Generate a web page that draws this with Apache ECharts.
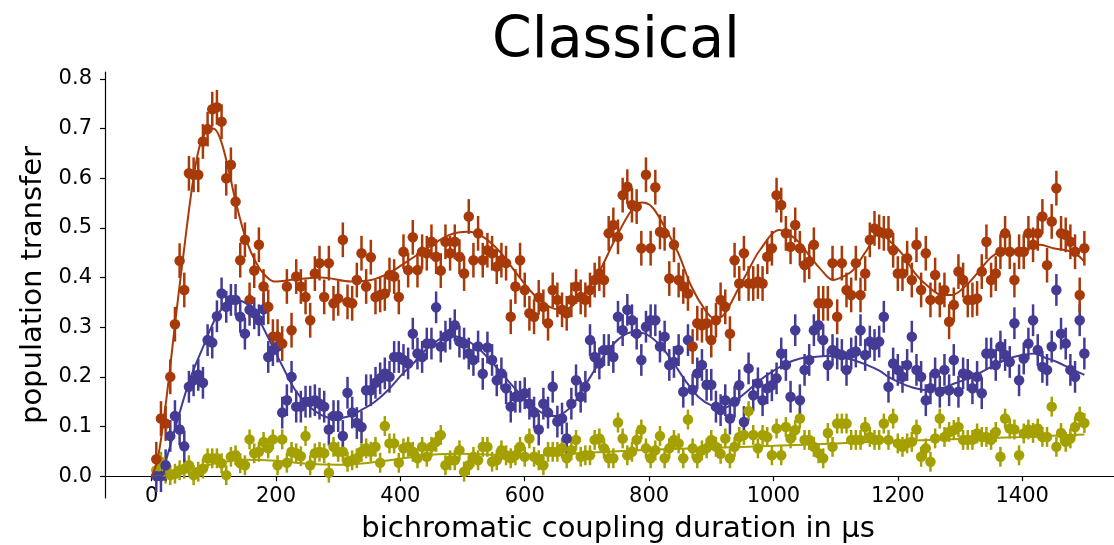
<!DOCTYPE html>
<html><head><meta charset="utf-8">
<script src="https://cdn.jsdelivr.net/npm/echarts@6/dist/echarts.min.js"></script>
<style>html,body{margin:0;padding:0;background:#fff}#c{width:1114px;height:545px}</style>
</head><body><div id="c"></div><script>
// bichromatic coupling duration (µs)
const durations = [
7.5,15,22.5,30,37.5,45,52.5,60,67.5,75,82.5,90,97.5,105,112.5,120,127.5,135,142.5,150,
157.5,165,172.5,180,187.5,195,202.5,210,217.5,225,232.5,240,247.5,255,262.5,270,277.5,285,292.5,300,
307.5,315,322.5,330,337.5,345,352.5,360,367.5,375,382.5,390,397.5,405,412.5,420,427.5,435,442.5,450,
457.5,465,472.5,480,487.5,495,502.5,510,517.5,525,532.5,540,547.5,555,562.5,570,577.5,585,592.5,600,
607.5,615,622.5,630,637.5,645,652.5,660,667.5,675,682.5,690,697.5,705,712.5,720,727.5,735,742.5,750,
757.5,765,772.5,780,787.5,795,802.5,810,817.5,825,832.5,840,847.5,855,862.5,870,877.5,885,892.5,900,
907.5,915,922.5,930,937.5,945,952.5,960,967.5,975,982.5,990,997.5,1005,1012.5,1020,1027.5,1035,1042.5,1050,
1057.5,1065,1072.5,1080,1087.5,1095,1102.5,1110,1117.5,1125,1132.5,1140,1147.5,1155,1162.5,1170,1177.5,1185,1192.5,1200,
1207.5,1215,1222.5,1230,1237.5,1245,1252.5,1260,1267.5,1275,1282.5,1290,1297.5,1305,1312.5,1320,1327.5,1335,1342.5,1350,
1357.5,1365,1372.5,1380,1387.5,1395,1402.5,1410,1417.5,1425,1432.5,1440,1447.5,1455,1462.5,1470,1477.5,1485,1492.5,1500
];
const redValues = [
0.034,0.116,0.106,0.200,0.306,0.434,0.375,0.610,0.607,0.607,0.674,0.699,0.739,0.743,0.714,0.600,0.627,0.553,0.435,0.476,
0.355,0.414,0.466,0.382,0.341,0.281,0.281,0.267,0.382,0.294,0.402,0.382,0.361,0.314,0.408,0.429,0.361,0.429,0.348,0.358,
0.476,0.351,0.348,0.395,0.449,0.382,0.441,0.361,0.365,0.368,0.405,0.402,0.361,0.452,0.415,0.481,0.415,0.452,0.449,0.472,
0.442,0.414,0.472,0.449,0.472,0.442,0.408,0.523,0.435,0.489,0.435,0.455,0.449,0.422,0.435,0.429,0.321,0.382,0.435,0.375,
0.328,0.321,0.360,0.341,0.308,0.375,0.355,0.335,0.328,0.355,0.382,0.361,0.355,0.375,0.395,0.408,0.395,0.489,0.506,0.482,
0.566,0.583,0.546,0.543,0.459,0.607,0.459,0.582,0.492,0.489,0.398,0.466,0.395,0.382,0.368,0.261,0.308,0.304,0.308,0.274,
0.314,0.355,0.341,0.287,0.435,0.388,0.449,0.388,0.388,0.392,0.388,0.442,0.459,0.566,0.546,0.489,0.462,0.506,0.459,0.425,
0.432,0.466,0.348,0.348,0.348,0.429,0.321,0.429,0.375,0.365,0.429,0.365,0.408,0.476,0.499,0.492,0.489,0.489,0.455,0.408,
0.408,0.439,0.395,0.466,0.375,0.449,0.355,0.405,0.355,0.375,0.311,0.345,0.412,0.395,0.355,0.355,0.358,0.412,0.472,0.395,
0.408,0.452,0.489,0.452,0.395,0.452,0.452,0.489,0.466,0.489,0.523,0.425,0.513,0.580,0.489,0.486,0.472,0.452,0.365,0.459
];
const blueValues = [
0.000,0.000,0.022,0.081,0.121,0.094,0.060,0.180,0.193,0.204,0.188,0.274,0.269,0.322,0.368,0.341,0.355,0.355,0.321,0.287,
0.335,0.328,0.314,0.336,0.240,0.254,0.261,0.128,0.153,0.200,0.140,0.140,0.150,0.150,0.153,0.146,0.140,0.094,0.121,0.121,
0.081,0.168,0.128,0.107,0.099,0.173,0.173,0.188,0.197,0.207,0.200,0.240,0.240,0.234,0.227,0.287,0.247,0.240,0.267,0.267,
0.340,0.261,0.281,0.287,0.304,0.271,0.267,0.247,0.234,0.261,0.206,0.259,0.234,0.193,0.207,0.177,0.140,0.160,0.160,0.167,
0.146,0.128,0.094,0.146,0.128,0.180,0.110,0.116,0.076,0.146,0.193,0.160,0.180,0.274,0.240,0.227,0.254,0.254,0.240,0.321,
0.294,0.335,0.314,0.287,0.234,0.301,0.314,0.314,0.261,0.281,0.224,0.230,0.254,0.170,0.274,0.174,0.207,0.224,0.184,0.184,
0.140,0.133,0.153,0.116,0.150,0.183,0.109,0.217,0.163,0.187,0.153,0.177,0.183,0.197,0.247,0.224,0.160,0.294,0.153,0.214,
0.234,0.294,0.304,0.274,0.224,0.254,0.247,0.244,0.214,0.247,0.251,0.294,0.244,0.271,0.264,0.271,0.321,0.180,0.227,0.214,
0.200,0.224,0.281,0.214,0.200,0.153,0.177,0.207,0.170,0.214,0.173,0.234,0.170,0.207,0.204,0.177,0.200,0.167,0.247,0.247,
0.224,0.261,0.244,0.230,0.308,0.193,0.237,0.267,0.314,0.254,0.220,0.214,0.261,0.375,0.287,0.267,0.214,0.200,0.314,0.247
];
const oliveValues = [
0.012,0.029,0.005,0.002,0.005,0.012,0.015,0.022,0.002,0.009,0.015,0.036,0.036,0.036,0.026,0.002,0.039,0.042,0.026,0.022,
0.074,0.046,0.049,0.069,0.056,0.074,0.022,0.074,0.027,0.049,0.046,0.040,0.081,0.022,0.046,0.049,0.046,0.007,0.059,0.049,
0.049,0.029,0.032,0.036,0.049,0.056,0.049,0.059,0.027,0.101,0.066,0.066,0.027,0.056,0.059,0.049,0.036,0.059,0.039,0.059,
0.069,0.083,0.022,0.032,0.032,0.052,0.009,0.022,0.039,0.032,0.059,0.059,0.029,0.032,0.052,0.042,0.036,0.042,0.059,0.039,
0.076,0.039,0.032,0.022,0.049,0.049,0.049,0.056,0.036,0.052,0.073,0.039,0.042,0.042,0.073,0.076,0.056,0.036,0.036,0.108,
0.076,0.042,0.049,0.073,0.094,0.056,0.036,0.052,0.081,0.036,0.056,0.073,0.066,0.036,0.114,0.056,0.036,0.052,0.056,0.073,
0.059,0.045,0.076,0.036,0.059,0.079,0.083,0.131,0.083,0.056,0.083,0.079,0.042,0.096,0.042,0.099,0.076,0.093,0.116,0.073,
0.073,0.059,0.046,0.036,0.087,0.059,0.106,0.106,0.106,0.073,0.073,0.073,0.099,0.079,0.073,0.073,0.106,0.073,0.116,0.066,
0.059,0.066,0.069,0.094,0.039,0.056,0.029,0.076,0.116,0.079,0.089,0.093,0.099,0.073,0.073,0.073,0.086,0.079,0.079,0.073,
0.089,0.039,0.116,0.096,0.094,0.042,0.086,0.094,0.087,0.096,0.079,0.079,0.140,0.059,0.087,0.069,0.076,0.099,0.120,0.107
];
// half-lengths of the error bars per series
const redError = 0.035, blueError = 0.032, oliveError = 0.02;
// fit curves
const redFitX = [0,9,19,28,37,50,66,77,88,99,109,120,136,152,168,182,198,230,273,321,353,380,402,431,447,479,509,533,560,587,613,640,662,691,718,745,772,788,804,825,847,868,890,905,920,945,957,978,1010,1037,1059,1075,1096,1112,1128,1150,1171,1185,1206,1228,1249,1271,1287,1308,1330,1351,1373,1400,1429,1450,1470,1485,1500];
const redFitY = [0,0.03,0.11,0.2,0.30,0.435,0.59,0.664,0.694,0.70,0.684,0.637,0.549,0.476,0.43,0.405,0.392,0.396,0.40,0.392,0.395,0.408,0.425,0.449,0.462,0.486,0.492,0.482,0.452,0.408,0.368,0.341,0.335,0.361,0.408,0.476,0.536,0.551,0.543,0.502,0.449,0.382,0.335,0.318,0.325,0.381,0.408,0.455,0.496,0.476,0.442,0.418,0.395,0.402,0.415,0.455,0.49,0.476,0.449,0.408,0.382,0.365,0.365,0.382,0.412,0.442,0.455,0.455,0.466,0.459,0.455,0.449,0.432];
const blueFitX = [0,15,25,40,61,83,104,120,136,152,168,187,209,230,252,273,295,316,337,359,380,402,423,437,458,479,501,522,544,565,587,608,630,651,673,686,708,729,750,772,793,815,836,858,879,901,922,935,957,978,1000,1021,1043,1064,1086,1107,1128,1150,1171,1185,1206,1228,1249,1271,1292,1313,1335,1356,1378,1400,1421,1434,1456,1477,1500];
const blueFitY = [0,0,0.04,0.106,0.193,0.261,0.321,0.345,0.355,0.348,0.325,0.28,0.225,0.175,0.142,0.123,0.116,0.12,0.133,0.15,0.173,0.204,0.23,0.25,0.272,0.284,0.277,0.261,0.234,0.204,0.173,0.146,0.126,0.121,0.138,0.16,0.205,0.245,0.275,0.29,0.287,0.267,0.234,0.193,0.16,0.142,0.138,0.148,0.17,0.193,0.212,0.227,0.237,0.24,0.242,0.24,0.234,0.224,0.212,0.2,0.187,0.177,0.173,0.177,0.187,0.197,0.21,0.224,0.237,0.244,0.247,0.24,0.23,0.217,0.204];
const oliveFitX = [0,30,60,100,150,200,250,300,350,400,450,500,550,600,650,700,800,900,1000,1100,1200,1300,1400,1500];
const oliveFitY = [0,0.003,0.012,0.025,0.033,0.031,0.025,0.023,0.027,0.035,0.043,0.045,0.043,0.042,0.043,0.047,0.053,0.057,0.061,0.066,0.071,0.075,0.079,0.084];
const xTicks = [0,200,400,600,800,1000,1200,1400];
const yTicks = [0,0.1,0.2,0.3,0.4,0.5,0.6,0.7,0.8];

const RED = '#a83a0a', BLUE = '#433b94', OLIVE = '#a4a000';
const FONT = 'DejaVu Sans';

function pts(vals){ return durations.map((x,i)=>[x, vals[i]]); }
function pairs(xs, ys){ return xs.map((x,i)=>[x, ys[i]]); }
function errSeries(vals, err, color){
  return {
    type:'custom', data: pts(vals), encode:{x:0, y:1}, silent:true,
    renderItem:function(params, api){
      const x = api.value(0), y = api.value(1);
      const a = api.coord([x, y-err]), b = api.coord([x, y+err]);
      return {type:'line', shape:{x1:a[0], y1:a[1], x2:b[0], y2:b[1]}, style:{stroke:color, lineWidth:2.5}};
    }
  };
}
function dotSeries(vals, color){
  return {type:'scatter', data: pts(vals), symbol:'circle', symbolSize:10.5, itemStyle:{color:color, opacity:1}, silent:true};
}
function fitSeries(xs, ys, color){
  return {type:'line', data: pairs(xs, ys), showSymbol:false, smooth:0.35, lineStyle:{color:color, width:2}, silent:true};
}

const chart = echarts.init(document.getElementById('c'));
chart.setOption({
  animation:false,
  backgroundColor:'#fff',
  graphic:[{type:'text', x:616, y:42, style:{text:'Classical', font:'57px "DejaVu Sans"', fill:'#000', align:'center', verticalAlign:'middle'}}],
  grid:{left:105, top:72, width:1026, height:426, outerBoundsMode:'none', containLabel:false},
  xAxis:{
    type:'value', min:-75, max:1575,
    axisLine:{show:true, onZero:true, lineStyle:{color:'#000', width:1.2}},
    axisTick:{show:true, length:5, inside:false, customValues:xTicks, lineStyle:{color:'#000', width:1.2}},
    axisLabel:{customValues:xTicks, fontSize:21, fontFamily:FONT, color:'#000', margin:-12, formatter:v=>String(Math.round(v))},
    splitLine:{show:false},
    name:'bichromatic coupling duration in µs', nameLocation:'middle', nameGap:17,
    nameTextStyle:{fontSize:29, fontFamily:FONT, color:'#000'}
  },
  yAxis:{
    type:'value', min:-0.044, max:0.814,
    axisLine:{show:true, onZero:false, lineStyle:{color:'#000', width:1.2}},
    axisTick:{show:true, length:5, inside:false, customValues:yTicks, lineStyle:{color:'#000', width:1.2}},
    axisLabel:{customValues:yTicks, fontSize:21, fontFamily:FONT, color:'#000', margin:13, formatter:v=>Number(v).toFixed(1)},
    splitLine:{show:false},
    name:'population transfer', nameLocation:'middle', nameGap:55,
    nameTextStyle:{fontSize:29, fontFamily:FONT, color:'#000'}
  },
  series:[
    errSeries(oliveValues, oliveError, OLIVE), dotSeries(oliveValues, OLIVE),
    errSeries(blueValues, blueError, BLUE), dotSeries(blueValues, BLUE),
    errSeries(redValues, redError, RED), dotSeries(redValues, RED),
    fitSeries(oliveFitX, oliveFitY, OLIVE),
    fitSeries(blueFitX, blueFitY, BLUE),
    fitSeries(redFitX, redFitY, RED)
  ]
});
</script></body></html>
